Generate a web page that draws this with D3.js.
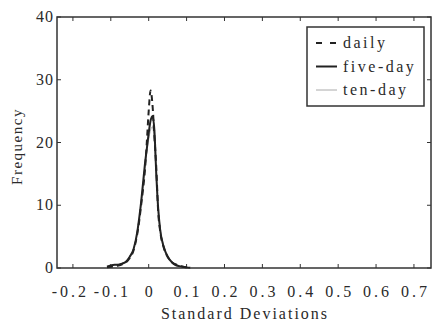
<!DOCTYPE html>
<html>
<head>
<meta charset="utf-8">
<script src="https://cdn.jsdelivr.net/npm/d3@7"></script>
<style>
  body { margin: 0; background: #fff; }
  text { font-family: "Liberation Serif", "DejaVu Serif", serif; fill: #2a2a2a; }
</style>
</head>
<body>
<div id="chart"></div>
<script>
// x positions (standard deviations) for the frequency curves
const xs = [-0.11, -0.10, -0.09, -0.08, -0.07, -0.06, -0.05, -0.04, -0.03, -0.025,
            -0.02, -0.015, -0.01, -0.005, 0, 0.005, 0.01, 0.015, 0.02, 0.025,
            0.03, 0.04, 0.05, 0.06, 0.07, 0.08, 0.09, 0.10, 0.11];
const daily = [0.1, 0.2, 0.3, 0.4, 0.6, 0.9, 1.6, 2.8, 5.5, 7.5,
               10, 12.5, 15.5, 20, 25, 28.3, 26, 21, 16, 9,
               6, 3.2, 1.8, 1.0, 0.6, 0.4, 0.2, 0.1, 0.05];
const fiveDay = [0.2, 0.4, 0.5, 0.5, 0.7, 1.0, 1.8, 3.0, 5.8, 8,
                 10.5, 13.5, 16.5, 19, 21.5, 23.5, 24.2, 22, 15, 9.5,
                 6.2, 3.3, 1.8, 1.0, 0.5, 0.3, 0.2, 0.1, 0.05];
const tenDay = [0.3, 0.4, 0.5, 0.6, 0.8, 1.1, 1.9, 3.1, 5.6, 7.8,
                10.2, 13, 15.8, 18.5, 20.5, 22, 22.5, 20, 14.5, 9.8,
                6.5, 3.5, 2.0, 1.1, 0.6, 0.4, 0.2, 0.1, 0.05];
const xTicks = [-0.2, -0.1, 0, 0.1, 0.2, 0.3, 0.4, 0.5, 0.6, 0.7];
const yTicks = [0, 10, 20, 30, 40];
const seriesNames = ["daily", "five-day", "ten-day"];

const width = 432, height = 323;
const margin = {top: 17, right: 1, bottom: 55, left: 57};

const svg = d3.select("#chart").append("svg")
    .attr("width", width)
    .attr("height", height);

const x = d3.scaleLinear()
    .domain([-0.242, 0.745])
    .range([margin.left, width - margin.right]);
const y = d3.scaleLinear()
    .domain([0, 40])
    .range([height - margin.bottom, margin.top]);

const styles = {
    "daily":    {stroke: "#222", width: 2, dash: "6,4", legendDash: "6,8"},
    "five-day": {stroke: "#222", width: 2, dash: null, legendDash: null},
    "ten-day":  {stroke: "#aaa", width: 1, dash: null, legendDash: null}
};
const seriesData = {"daily": daily, "five-day": fiveDay, "ten-day": tenDay};

// frame
const x0 = x.range()[0], x1 = x.range()[1];
const y0 = y.range()[0], y1 = y.range()[1];
svg.append("rect")
    .attr("x", x0).attr("y", y1)
    .attr("width", x1 - x0).attr("height", y0 - y1)
    .attr("fill", "none")
    .attr("stroke", "#333")
    .attr("stroke-width", 1.5);

// inward ticks on all four sides
const tl = 4;
xTicks.forEach(t => {
    svg.append("line").attr("x1", x(t)).attr("x2", x(t)).attr("y1", y0).attr("y2", y0 - tl)
        .attr("stroke", "#333");
    svg.append("line").attr("x1", x(t)).attr("x2", x(t)).attr("y1", y1).attr("y2", y1 + tl)
        .attr("stroke", "#333");
});
yTicks.forEach(t => {
    svg.append("line").attr("x1", x0).attr("x2", x0 + tl).attr("y1", y(t)).attr("y2", y(t))
        .attr("stroke", "#333");
    svg.append("line").attr("x1", x1).attr("x2", x1 - tl).attr("y1", y(t)).attr("y2", y(t))
        .attr("stroke", "#333");
});

svg.selectAll(".xlab")
    .data(xTicks)
    .enter().append("text")
    .attr("class", "xlab")
    .attr("x", d => x(d) + 1.5 - (d < -0.15 ? 4 : 0))
    .attr("y", 297)
    .attr("text-anchor", "middle")
    .style("font-size", "16px")
    .style("letter-spacing", "3px")
    .text(d => d === 0 ? "0" : d3.format(".1f")(d).replace("−", "-"));

svg.selectAll(".ylab")
    .data(yTicks)
    .enter().append("text")
    .attr("class", "ylab")
    .attr("x", 54)
    .attr("y", d => y(d) + 5)
    .attr("text-anchor", "end")
    .style("font-size", "16px")
    .style("letter-spacing", "1px")
    .text(d => d);

svg.append("text")
    .attr("x", (x0 + x1) / 2 + 1)
    .attr("y", 319)
    .attr("text-anchor", "middle")
    .style("font-size", "16px")
    .style("letter-spacing", "2px")
    .text("Standard Deviations");

svg.append("text")
    .attr("transform", `translate(22,${(y0 + y1) / 2 + 4}) rotate(-90)`)
    .attr("text-anchor", "middle")
    .style("font-size", "15px")
    .style("letter-spacing", "1.5px")
    .text("Frequency");

// curves, ten-day first so the darker lines sit on top
const line = d3.line()
    .x((d, i) => x(xs[i]))
    .y(d => y(d))
    .curve(d3.curveMonotoneX);

["ten-day", "five-day", "daily"].forEach(name => {
    const s = styles[name];
    svg.append("path")
        .datum(seriesData[name])
        .attr("d", line)
        .attr("fill", "none")
        .attr("stroke", s.stroke)
        .attr("stroke-width", s.width)
        .attr("stroke-dasharray", s.dash);
});

// legend
const legend = svg.append("g");
legend.append("rect")
    .attr("x", 307).attr("y", 27)
    .attr("width", 117).attr("height", 79)
    .attr("fill", "#fff")
    .attr("stroke", "#333")
    .attr("stroke-width", 1.5);
seriesNames.forEach((name, i) => {
    const s = styles[name];
    const ly = 43 + i * 23.5;
    legend.append("line")
        .attr("x1", 316).attr("x2", 337)
        .attr("y1", ly).attr("y2", ly)
        .attr("stroke", s.stroke)
        .attr("stroke-width", s.width)
        .attr("stroke-dasharray", s.legendDash);
    legend.append("text")
        .attr("x", 343)
        .attr("y", ly + 5)
        .style("font-size", "16px")
        .style("letter-spacing", "2.5px")
        .text(name);
});
</script>
</body>
</html>
